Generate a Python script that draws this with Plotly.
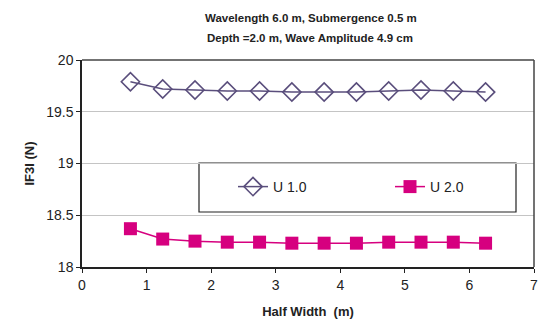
import plotly.graph_objects as go

half_width = [0.75, 1.25, 1.75, 2.25, 2.75, 3.25, 3.75, 4.25, 4.75, 5.25, 5.75, 6.25]
u10 = [19.79, 19.72, 19.71, 19.70, 19.70, 19.69, 19.69, 19.69, 19.70, 19.71, 19.70, 19.69]
u20 = [18.37, 18.27, 18.25, 18.24, 18.24, 18.23, 18.23, 18.23, 18.24, 18.24, 18.24, 18.23]
x_ticks = [0, 1, 2, 3, 4, 5, 6, 7]
y_ticks = [18, 18.5, 19, 19.5, 20]
y_ticktext = ["18", "18.5", "19", "19.5", "20"]

L, R, T, B = 82, 7, 60, 54
W, H = 541, 321
pw, ph = W - L - R, H - T - B

def px_x(p):
    return (p - L) / pw

def px_y(p):
    return (H - B - p) / ph

fig = go.Figure()
fig.add_trace(go.Scatter(
    x=half_width, y=u10, name="U 1.0", mode="lines+markers",
    line=dict(color="#5a4e7c", width=1.5),
    marker=dict(symbol="diamond-open", size=14, color="#5a4e7c", line=dict(width=1.6, color="#5a4e7c")),
))
fig.add_trace(go.Scatter(
    x=half_width, y=u20, name="U 2.0", mode="lines+markers",
    line=dict(color="#d6007f", width=1.5),
    marker=dict(symbol="square", size=13, color="#d6007f"),
))

fig.update_layout(
    width=W, height=H, autosize=False,
    margin=dict(l=L, r=R, t=T, b=B, autoexpand=False),
    paper_bgcolor="white", plot_bgcolor="white",
    font=dict(family="Liberation Sans, Arial, sans-serif", size=14, color="#222"),
    xaxis=dict(
        range=[0, 7], tickvals=x_ticks, showgrid=False, automargin=False,
        showline=True, linecolor="#222", linewidth=1.5,
        ticks="outside", ticklen=4, tickcolor="#222",
        title=dict(text="<b>Half Width\u00a0\u00a0(m)</b>", font=dict(size=13), standoff=15),
        zeroline=False,
    ),
    yaxis=dict(
        range=[18, 20], tickvals=y_ticks, ticktext=y_ticktext, automargin=False,
        showgrid=True, gridcolor="#c4c4c4", gridwidth=1,
        showline=True, linecolor="#222", linewidth=1.5,
        ticks="outside", ticklen=4, tickcolor="#222",
        title=dict(text="<b>IF3I (N)</b>", font=dict(size=13), standoff=9),
        zeroline=False,
    ),
    legend=dict(
        orientation="h", x=px_x(233), y=px_y(187), xanchor="left", yanchor="middle",
        borderwidth=0, bgcolor="rgba(0,0,0,0)",
        entrywidth=112, font=dict(size=14),
    ),
    showlegend=True,
)

# title lines
fig.add_annotation(text="<b>Wavelength 6.0 m, Submergence 0.5 m</b>", xref="paper", yref="paper",
                   x=px_x(311), y=px_y(18), showarrow=False, font=dict(size=11.5, color="#222"),
                   xanchor="center", yanchor="middle")
fig.add_annotation(text="<b>Depth =2.0 m, Wave Amplitude 4.9 cm</b>", xref="paper", yref="paper",
                   x=px_x(310), y=px_y(38), showarrow=False, font=dict(size=11.5, color="#222"),
                   xanchor="center", yanchor="middle")

# legend frame
fig.add_shape(type="rect", xref="paper", yref="paper",
              x0=px_x(199), x1=px_x(516), y0=px_y(212), y1=px_y(163),
              line=dict(color="#222", width=1.2), fillcolor="white", layer="below")
# top and right frame lines
fig.add_shape(type="line", xref="paper", yref="paper", x0=0, x1=1, y0=1, y1=1,
              line=dict(color="#444", width=1.5))
fig.add_shape(type="line", xref="paper", yref="paper", x0=1, x1=1, y0=0, y1=1,
              line=dict(color="#444", width=1.5))

fig.write_html("out.html", config={"displayModeBar": False, "responsive": False},
               post_script="document.body.style.margin='0';")
